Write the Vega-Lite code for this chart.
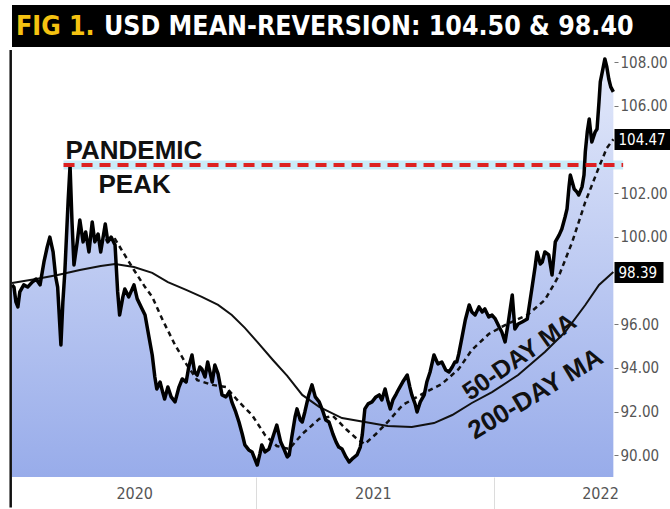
{
  "$schema": "https://vega.github.io/schema/vega-lite/v6.json",
  "background": "white",
  "padding": {"left": 8, "top": 5, "right": 0, "bottom": 0},
  "spacing": 1,
  "config": {"view": {"stroke": null}, "font": "Liberation Sans"},
  "datasets": {
    "price": [
      {"date": "2019-12-24", "value": 97.80}, {"date": "2019-12-27", "value": 97.70}, {"date": "2019-12-30", "value": 97.02},
      {"date": "2020-01-02", "value": 96.79}, {"date": "2020-01-05", "value": 97.48}, {"date": "2020-01-11", "value": 97.80},
      {"date": "2020-01-17", "value": 97.70}, {"date": "2020-01-24", "value": 97.93}, {"date": "2020-01-30", "value": 98.07},
      {"date": "2020-02-05", "value": 97.80}, {"date": "2020-02-11", "value": 98.85}, {"date": "2020-02-16", "value": 99.54},
      {"date": "2020-02-20", "value": 99.99}, {"date": "2020-02-25", "value": 99.31}, {"date": "2020-02-29", "value": 98.16},
      {"date": "2020-03-03", "value": 97.70}, {"date": "2020-03-06", "value": 96.10}, {"date": "2020-03-08", "value": 95.05},
      {"date": "2020-03-11", "value": 97.02}, {"date": "2020-03-14", "value": 98.39}, {"date": "2020-03-19", "value": 101.60},
      {"date": "2020-03-22", "value": 103.25}, {"date": "2020-03-25", "value": 100.68}, {"date": "2020-03-28", "value": 98.71},
      {"date": "2020-04-02", "value": 99.77}, {"date": "2020-04-06", "value": 100.77}, {"date": "2020-04-11", "value": 99.77},
      {"date": "2020-04-15", "value": 100.22}, {"date": "2020-04-20", "value": 99.31}, {"date": "2020-04-25", "value": 100.68},
      {"date": "2020-04-29", "value": 99.77}, {"date": "2020-05-04", "value": 100.13}, {"date": "2020-05-08", "value": 99.31},
      {"date": "2020-05-15", "value": 100.59}, {"date": "2020-05-19", "value": 99.77}, {"date": "2020-05-24", "value": 99.99},
      {"date": "2020-05-30", "value": 99.63}, {"date": "2020-06-03", "value": 97.48}, {"date": "2020-06-06", "value": 96.42},
      {"date": "2020-06-11", "value": 97.25}, {"date": "2020-06-14", "value": 97.61}, {"date": "2020-06-20", "value": 97.25},
      {"date": "2020-06-28", "value": 97.80}, {"date": "2020-07-03", "value": 97.16}, {"date": "2020-07-09", "value": 96.79},
      {"date": "2020-07-15", "value": 96.42}, {"date": "2020-07-21", "value": 95.41}, {"date": "2020-07-26", "value": 94.59},
      {"date": "2020-07-30", "value": 93.58}, {"date": "2020-08-02", "value": 93.03}, {"date": "2020-08-07", "value": 93.35},
      {"date": "2020-08-11", "value": 92.89}, {"date": "2020-08-14", "value": 92.57}, {"date": "2020-08-19", "value": 93.12},
      {"date": "2020-08-24", "value": 92.67}, {"date": "2020-08-30", "value": 92.44}, {"date": "2020-09-05", "value": 93.12},
      {"date": "2020-09-10", "value": 93.49}, {"date": "2020-09-16", "value": 93.35}, {"date": "2020-09-20", "value": 94.04},
      {"date": "2020-09-25", "value": 94.59}, {"date": "2020-09-29", "value": 93.81}, {"date": "2020-10-03", "value": 93.67},
      {"date": "2020-10-07", "value": 94.04}, {"date": "2020-10-10", "value": 93.95}, {"date": "2020-10-15", "value": 93.58},
      {"date": "2020-10-19", "value": 94.27}, {"date": "2020-10-26", "value": 93.35}, {"date": "2020-10-30", "value": 94.13},
      {"date": "2020-11-04", "value": 93.72}, {"date": "2020-11-10", "value": 92.76}, {"date": "2020-11-16", "value": 92.67},
      {"date": "2020-11-21", "value": 92.89}, {"date": "2020-11-25", "value": 92.44}, {"date": "2020-12-01", "value": 91.98},
      {"date": "2020-12-06", "value": 91.52}, {"date": "2020-12-11", "value": 90.97}, {"date": "2020-12-15", "value": 90.47},
      {"date": "2020-12-21", "value": 90.24}, {"date": "2020-12-26", "value": 90.15}, {"date": "2020-12-31", "value": 89.78},
      {"date": "2021-01-03", "value": 89.55}, {"date": "2021-01-07", "value": 90.05}, {"date": "2021-01-10", "value": 90.47},
      {"date": "2021-01-15", "value": 90.15}, {"date": "2021-01-21", "value": 90.28}, {"date": "2021-01-27", "value": 90.83},
      {"date": "2021-02-02", "value": 91.38}, {"date": "2021-02-08", "value": 90.60}, {"date": "2021-02-13", "value": 90.28},
      {"date": "2021-02-18", "value": 89.92}, {"date": "2021-02-21", "value": 90.01}, {"date": "2021-02-25", "value": 90.83},
      {"date": "2021-03-02", "value": 91.75}, {"date": "2021-03-05", "value": 92.12}, {"date": "2021-03-10", "value": 91.61},
      {"date": "2021-03-13", "value": 91.52}, {"date": "2021-03-17", "value": 91.98}, {"date": "2021-03-23", "value": 92.76},
      {"date": "2021-03-28", "value": 93.22}, {"date": "2021-04-02", "value": 92.67}, {"date": "2021-04-08", "value": 92.44},
      {"date": "2021-04-14", "value": 91.98}, {"date": "2021-04-18", "value": 91.61}, {"date": "2021-04-23", "value": 91.52},
      {"date": "2021-04-29", "value": 90.97}, {"date": "2021-05-04", "value": 90.60}, {"date": "2021-05-08", "value": 90.37},
      {"date": "2021-05-13", "value": 90.28}, {"date": "2021-05-19", "value": 89.92}, {"date": "2021-05-24", "value": 89.69},
      {"date": "2021-05-30", "value": 89.87}, {"date": "2021-06-05", "value": 90.01}, {"date": "2021-06-10", "value": 90.37},
      {"date": "2021-06-13", "value": 90.92}, {"date": "2021-06-17", "value": 92.12}, {"date": "2021-06-22", "value": 92.35},
      {"date": "2021-06-28", "value": 92.44}, {"date": "2021-07-04", "value": 92.67}, {"date": "2021-07-09", "value": 92.76},
      {"date": "2021-07-13", "value": 92.53}, {"date": "2021-07-18", "value": 93.03}, {"date": "2021-07-22", "value": 92.53},
      {"date": "2021-07-26", "value": 92.12}, {"date": "2021-07-30", "value": 92.53}, {"date": "2021-08-04", "value": 92.80},
      {"date": "2021-08-08", "value": 93.03}, {"date": "2021-08-14", "value": 93.35}, {"date": "2021-08-21", "value": 93.67},
      {"date": "2021-08-25", "value": 93.12}, {"date": "2021-08-28", "value": 92.76}, {"date": "2021-09-02", "value": 92.35},
      {"date": "2021-09-05", "value": 91.98}, {"date": "2021-09-10", "value": 92.44}, {"date": "2021-09-16", "value": 92.76},
      {"date": "2021-09-20", "value": 93.35}, {"date": "2021-09-25", "value": 93.81}, {"date": "2021-10-01", "value": 94.59},
      {"date": "2021-10-07", "value": 94.18}, {"date": "2021-10-13", "value": 94.27}, {"date": "2021-10-19", "value": 93.90},
      {"date": "2021-10-24", "value": 93.81}, {"date": "2021-10-29", "value": 94.04}, {"date": "2021-11-02", "value": 94.27},
      {"date": "2021-11-05", "value": 94.27}, {"date": "2021-11-08", "value": 94.64}, {"date": "2021-11-13", "value": 95.41},
      {"date": "2021-11-18", "value": 96.19}, {"date": "2021-11-24", "value": 96.88}, {"date": "2021-11-28", "value": 96.56},
      {"date": "2021-12-03", "value": 96.42}, {"date": "2021-12-09", "value": 96.79}, {"date": "2021-12-14", "value": 96.56},
      {"date": "2021-12-18", "value": 96.70}, {"date": "2021-12-24", "value": 96.33}, {"date": "2021-12-29", "value": 96.42},
      {"date": "2022-01-03", "value": 96.24}, {"date": "2022-01-09", "value": 95.87}, {"date": "2022-01-13", "value": 95.64},
      {"date": "2022-01-18", "value": 95.19}, {"date": "2022-01-23", "value": 96.10}, {"date": "2022-01-29", "value": 97.34},
      {"date": "2022-02-02", "value": 95.78}, {"date": "2022-02-07", "value": 96.01}, {"date": "2022-02-13", "value": 96.10},
      {"date": "2022-02-21", "value": 96.24}, {"date": "2022-02-25", "value": 97.02}, {"date": "2022-02-28", "value": 97.61},
      {"date": "2022-03-05", "value": 98.62}, {"date": "2022-03-08", "value": 99.31}, {"date": "2022-03-13", "value": 98.76},
      {"date": "2022-03-16", "value": 98.85}, {"date": "2022-03-20", "value": 99.31}, {"date": "2022-03-26", "value": 99.17},
      {"date": "2022-03-31", "value": 98.25}, {"date": "2022-04-05", "value": 99.77}, {"date": "2022-04-11", "value": 100.09},
      {"date": "2022-04-15", "value": 100.36}, {"date": "2022-04-20", "value": 100.91}, {"date": "2022-04-23", "value": 101.28},
      {"date": "2022-04-26", "value": 102.29}, {"date": "2022-04-28", "value": 102.83}, {"date": "2022-05-01", "value": 102.51},
      {"date": "2022-05-04", "value": 102.19}, {"date": "2022-05-08", "value": 102.06}, {"date": "2022-05-11", "value": 101.92},
      {"date": "2022-05-16", "value": 102.29}, {"date": "2022-05-19", "value": 102.83}, {"date": "2022-05-21", "value": 103.89},
      {"date": "2022-05-24", "value": 104.80}, {"date": "2022-05-27", "value": 105.40}, {"date": "2022-05-30", "value": 104.58},
      {"date": "2022-05-31", "value": 104.35}, {"date": "2022-06-05", "value": 104.80}, {"date": "2022-06-08", "value": 104.94},
      {"date": "2022-06-11", "value": 106.18}, {"date": "2022-06-13", "value": 107.10}, {"date": "2022-06-16", "value": 107.55},
      {"date": "2022-06-20", "value": 108.15}, {"date": "2022-06-23", "value": 107.78}, {"date": "2022-06-26", "value": 107.23},
      {"date": "2022-06-29", "value": 106.87}, {"date": "2022-07-03", "value": 106.64}
    ],
    "ma50": [
      {"date": "2020-05-15", "value": 99.85}, {"date": "2020-05-30", "value": 99.90}, {"date": "2020-06-11", "value": 99.31},
      {"date": "2020-06-28", "value": 98.48}, {"date": "2020-07-15", "value": 97.70}, {"date": "2020-07-26", "value": 97.25},
      {"date": "2020-08-11", "value": 96.19}, {"date": "2020-08-30", "value": 95.05}, {"date": "2020-09-16", "value": 94.18},
      {"date": "2020-10-03", "value": 93.44}, {"date": "2020-10-26", "value": 93.22}, {"date": "2020-11-16", "value": 93.12},
      {"date": "2020-12-06", "value": 92.44}, {"date": "2020-12-26", "value": 91.84}, {"date": "2021-01-15", "value": 90.92},
      {"date": "2021-02-02", "value": 90.42}, {"date": "2021-02-21", "value": 90.28}, {"date": "2021-03-13", "value": 90.97},
      {"date": "2021-04-08", "value": 91.66}, {"date": "2021-04-29", "value": 91.80}, {"date": "2021-05-19", "value": 91.20},
      {"date": "2021-06-05", "value": 90.74}, {"date": "2021-06-17", "value": 90.51}, {"date": "2021-07-04", "value": 90.97},
      {"date": "2021-07-22", "value": 91.52}, {"date": "2021-08-14", "value": 92.30}, {"date": "2021-09-16", "value": 92.85},
      {"date": "2021-10-13", "value": 93.26}, {"date": "2021-11-08", "value": 93.95}, {"date": "2021-11-28", "value": 94.82},
      {"date": "2021-12-24", "value": 95.55}, {"date": "2022-01-18", "value": 95.96}, {"date": "2022-02-21", "value": 96.42},
      {"date": "2022-03-20", "value": 97.11}, {"date": "2022-04-11", "value": 98.25}, {"date": "2022-05-01", "value": 99.77},
      {"date": "2022-05-21", "value": 101.60}, {"date": "2022-06-11", "value": 103.20}, {"date": "2022-06-23", "value": 104.07},
      {"date": "2022-07-03", "value": 104.47}
    ],
    "ma200": [
      {"date": "2019-12-24", "value": 97.89}, {"date": "2020-01-30", "value": 98.07}, {"date": "2020-03-03", "value": 98.25},
      {"date": "2020-04-06", "value": 98.48}, {"date": "2020-05-08", "value": 98.67}, {"date": "2020-05-30", "value": 98.76},
      {"date": "2020-06-28", "value": 98.62}, {"date": "2020-07-26", "value": 98.35}, {"date": "2020-08-19", "value": 97.93},
      {"date": "2020-09-16", "value": 97.57}, {"date": "2020-10-10", "value": 97.25}, {"date": "2020-11-04", "value": 96.88},
      {"date": "2020-11-25", "value": 96.42}, {"date": "2020-12-15", "value": 95.83}, {"date": "2021-01-03", "value": 95.19},
      {"date": "2021-01-27", "value": 94.36}, {"date": "2021-02-18", "value": 93.63}, {"date": "2021-03-13", "value": 92.76},
      {"date": "2021-04-08", "value": 92.21}, {"date": "2021-05-13", "value": 91.70}, {"date": "2021-06-17", "value": 91.52},
      {"date": "2021-07-22", "value": 91.34}, {"date": "2021-08-28", "value": 91.29}, {"date": "2021-10-01", "value": 91.47},
      {"date": "2021-10-29", "value": 91.84}, {"date": "2021-11-28", "value": 92.39}, {"date": "2021-12-29", "value": 92.89},
      {"date": "2022-02-07", "value": 93.67}, {"date": "2022-03-20", "value": 94.73}, {"date": "2022-04-20", "value": 95.64},
      {"date": "2022-05-21", "value": 96.88}, {"date": "2022-06-11", "value": 97.80}, {"date": "2022-07-03", "value": 98.39}
    ],
    "peakline": [{"date": "2020-03-12", "date2": "2022-07-18", "value": 103.29}],
    "border": [{"date": "2019-12-22", "value": 108.56, "value2": 87.6}],
    "peaknote": [
      {"date": "2020-06-28", "value": 103.93, "label": "PANDEMIC"},
      {"date": "2020-06-29", "value": 102.38, "label": "PEAK"}
    ],
    "ma50note": [{"date": "2022-02-09", "value": 94.50, "label": "50-DAY MA"}],
    "ma200note": [{"date": "2022-03-06", "value": 92.80, "label": "200-DAY MA"}]
  },
  "vconcat": [
    {
      "width": 662,
      "height": 42,
      "view": {"fill": "black", "stroke": null},
      "data": {"values": [{"fig": "FIG 1.", "rest": "USD MEAN-REVERSION: 104.50 & 98.40"}]},
      "layer": [
        {
          "mark": {"type": "text", "align": "left", "baseline": "middle", "dx": 4, "dy": 1,
                   "font": "DejaVu Sans Condensed, sans-serif", "fontWeight": "bold", "fontSize": 26.5, "color": "#f5c211"},
          "encoding": {
            "x": {"datum": 0, "type": "quantitative", "scale": {"domain": [0, 1]}, "axis": null},
            "text": {"field": "fig"}
          }
        },
        {
          "mark": {"type": "text", "align": "left", "baseline": "middle", "dx": 92, "dy": 1,
                   "font": "DejaVu Sans Condensed, sans-serif", "fontWeight": "bold", "fontSize": 26.5, "color": "white"},
          "encoding": {
            "x": {"datum": 0, "type": "quantitative", "scale": {"domain": [0, 1]}, "axis": null},
            "text": {"field": "rest"}
          }
        }
      ]
    },
    {
      "width": 602,
      "height": 427,
      "view": {"fill": "white", "stroke": null},
      "encoding": {
        "x": {
          "field": "date", "type": "temporal",
          "scale": {"domain": ["2019-12-24", "2022-07-04"], "nice": false},
          "axis": {
            "title": null,
            "values": [{"year": 2020, "month": 1, "date": 1}, {"year": 2021, "month": 1, "date": 1}, {"year": 2022, "month": 1, "date": 1}],
            "format": "%Y",
            "domain": false,
            "grid": false,
            "tickSize": 32,
            "tickWidth": 1,
            "tickColor": {"condition": {"test": "year(datum.value) == 2020", "value": "transparent"}, "value": "#dcdcdc"},
            "labelOffset": {"condition": {"test": "year(datum.value) == 2022", "value": 106}, "value": 117},
            "labelPadding": -24,
            "labelFont": "DejaVu Sans Condensed, sans-serif",
            "labelFontSize": 16,
            "labelColor": "#555555",
            "labelFlush": false,
            "labelOverlap": false
          }
        },
        "y": {
          "field": "value", "type": "quantitative",
          "scale": {"domain": [89.0, 108.56], "nice": false, "zero": false},
          "axis": {
            "title": null,
            "orient": "right",
            "values": [90, 92, 94, 96, 100, 102, 106, 108, 98.39, 104.47],
            "format": ".2f",
            "domain": false,
            "grid": false,
            "tickSize": {"condition": [{"test": "datum.value == 104.47", "value": 56}, {"test": "datum.value == 98.39", "value": 49}], "value": 4},
            "tickWidth": {"condition": {"test": "datum.value == 104.47 || datum.value == 98.39", "value": 21}, "value": 1},
            "tickColor": {"condition": {"test": "datum.value == 104.47 || datum.value == 98.39", "value": "black"}, "value": "#777777"},
            "labelColor": {"condition": {"test": "datum.value == 104.47 || datum.value == 98.39", "value": "white"}, "value": "#555555"},
            "labelPadding": {"condition": [{"test": "datum.value == 104.47", "value": -52}, {"test": "datum.value == 98.39", "value": -45}], "value": 2},
            "labelFont": "DejaVu Sans Condensed, sans-serif",
            "labelFontSize": 15,
            "labelOverlap": false
          }
        }
      },
      "layer": [
        {
          "data": {"name": "price"},
          "mark": {"type": "area", "color": {"gradient": "linear", "x1": 0, "y1": 0, "x2": 0, "y2": 1,
                   "stops": [{"offset": 0, "color": "#e3e9fa"}, {"offset": 1, "color": "#98acea"}]}},
          "encoding": {"y2": {"datum": 89.0}}
        },
        {
          "data": {"name": "peakline"},
          "mark": {"type": "rule", "color": "#bde6f6", "strokeWidth": 9, "opacity": 0.8},
          "encoding": {"x2": {"field": "date2"}}
        },
        {
          "data": {"name": "ma200"},
          "mark": {"type": "line", "color": "#111111", "strokeWidth": 2},
          "encoding": {}
        },
        {
          "data": {"name": "ma50"},
          "mark": {"type": "line", "color": "#111111", "strokeWidth": 2.5, "strokeDash": [5, 4]},
          "encoding": {}
        },
        {
          "data": {"name": "price"},
          "mark": {"type": "line", "color": "#000000", "strokeWidth": 3.5, "strokeJoin": "round"},
          "encoding": {}
        },
        {
          "data": {"name": "peakline"},
          "mark": {"type": "rule", "color": "#dd2222", "strokeWidth": 4, "strokeDash": [11, 7]},
          "encoding": {"x2": {"field": "date2"}}
        },
        {
          "data": {"name": "border"},
          "mark": {"type": "rule", "color": "#111111", "strokeWidth": 2.5},
          "encoding": {"y2": {"field": "value2"}}
        },
        {
          "data": {"name": "peaknote"},
          "mark": {"type": "text", "font": "Liberation Sans", "fontWeight": "bold", "fontSize": 26, "color": "#111111", "align": "center", "baseline": "middle"},
          "encoding": {"text": {"field": "label"}}
        },
        {
          "data": {"name": "ma50note"},
          "mark": {"type": "text", "font": "Liberation Sans", "fontWeight": "bold", "fontSize": 25, "color": "#111111", "align": "center", "baseline": "middle", "angle": 325},
          "encoding": {"text": {"field": "label"}}
        },
        {
          "data": {"name": "ma200note"},
          "mark": {"type": "text", "font": "Liberation Sans", "fontWeight": "bold", "fontSize": 26, "color": "#111111", "align": "center", "baseline": "middle", "angle": 329},
          "encoding": {"text": {"field": "label"}}
        }
      ]
    }
  ]
}
